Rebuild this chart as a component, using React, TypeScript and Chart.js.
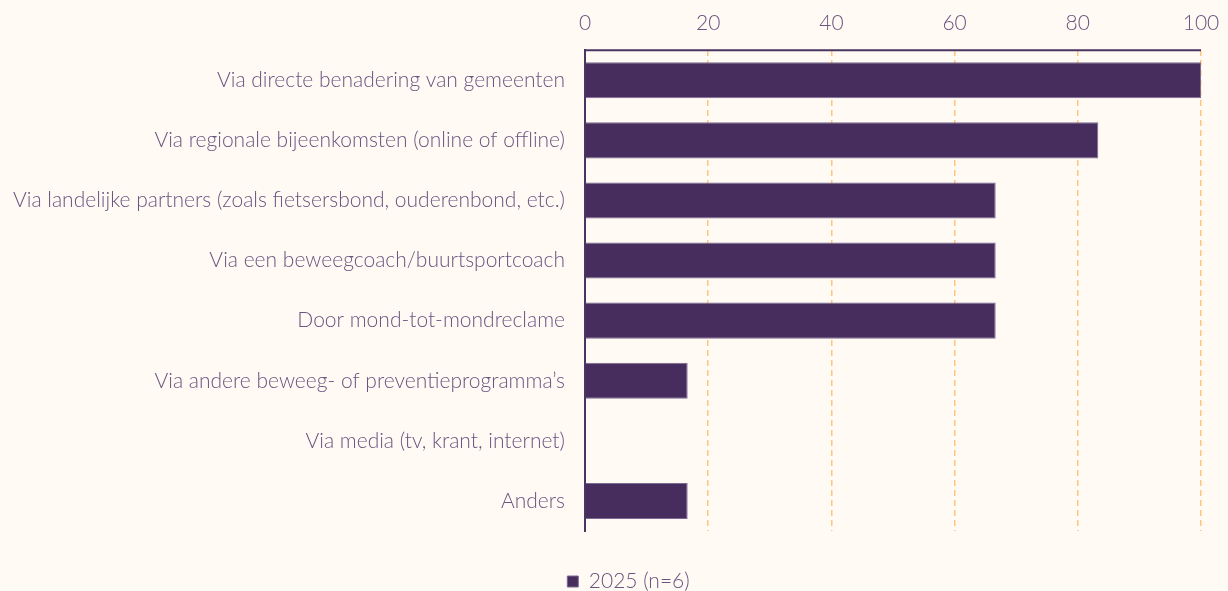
import React, { useEffect, useRef } from "react";
import { Chart, registerables } from "chart.js";

Chart.register(...registerables);

const categories = [
  "Via directe benadering van gemeenten",
  "Via regionale bijeenkomsten (online of offline)",
  "Via landelijke partners (zoals fietsersbond, ouderenbond, etc.)",
  "Via een beweegcoach/buurtsportcoach",
  "Door mond-tot-mondreclame",
  "Via andere beweeg- of preventieprogramma’s",
  "Via media (tv, krant, internet)",
  "Anders",
];
const values2025 = [100, 83.33, 66.67, 66.67, 66.67, 16.67, 0, 16.67];
const seriesLabel = "2025 (n=6)";
const xTicks = [0, 20, 40, 60, 80, 100];

export default function App() {
  const ref = useRef<HTMLCanvasElement>(null);
  useEffect(() => {
    document.body.style.margin = "0";
    document.body.style.background = "#fffaf4";
    if (!ref.current) return;
    const textColor = "#665680";
    const font = { family: "Lato", size: 21, weight: "300" };
    const chart = new Chart(ref.current, {
      type: "bar",
      data: {
        labels: categories,
        datasets: [
          {
            label: seriesLabel,
            data: values2025,
            backgroundColor: "#472d5e",
            borderColor: "#7d6a92",
            borderWidth: 1,
            barPercentage: 0.6,
            categoryPercentage: 1,
          },
        ],
      },
      options: {
        indexAxis: "y",
        animation: false,
        responsive: true,
        maintainAspectRatio: false,
        layout: { padding: { left: -7, right: 0, top: -3, bottom: 8 } },
        scales: {
          x: {
            position: "top",
            min: 0,
            max: 100,
            afterBuildTicks: (axis: any) => {
              axis.ticks = xTicks.map((v) => ({ value: v }));
            },
            afterFit: (scale: any) => {
              scale.paddingRight = 27;
            },
            grid: {
              color: "#ffc67f",
              lineWidth: 1.5,
              drawTicks: false,
            },
            border: { display: false, dash: [6, 4] },
            ticks: {
              color: textColor,
              padding: 14,
              font,
            },
          },
          y: {
            grid: { display: false, drawTicks: false },
            border: { display: true, color: "#4a3560", width: 2 },
            ticks: {
              color: textColor,
              padding: 20,
              font,
            },
          },
        },
        plugins: {
          legend: {
            position: "bottom",
            labels: {
              color: textColor,
              boxWidth: 11,
              boxHeight: 11,
              padding: 40,
              font,
            },
          },
          tooltip: { enabled: false },
        },
      } as any,
      plugins: [
        {
          id: "bg",
          beforeDraw: (c: any) => {
            const ctx = c.ctx;
            ctx.save();
            ctx.fillStyle = "#fffaf4";
            ctx.fillRect(0, 0, c.width, c.height);
            ctx.restore();
          },
        },
        {
          id: "shiftLegend",
          afterLayout: (c: any) => {
            if (c.legend) {
              c.legend.left += 18;
              c.legend.right += 18;
            }
          },
        },
        {
          id: "topLine",
          afterDatasetsDraw: (c: any) => {
            const { ctx, chartArea } = c;
            ctx.save();
            ctx.strokeStyle = "#4a3560";
            ctx.lineWidth = 2;
            ctx.beginPath();
            ctx.moveTo(chartArea.left, chartArea.top);
            ctx.lineTo(chartArea.right, chartArea.top);
            ctx.stroke();
            ctx.restore();
          },
        },
      ],
    });
    return () => chart.destroy();
  }, []);
  return (
    <div style={{ width: 1228, height: 610, background: "#fffaf4" }}>
      <canvas ref={ref} />
    </div>
  );
}
